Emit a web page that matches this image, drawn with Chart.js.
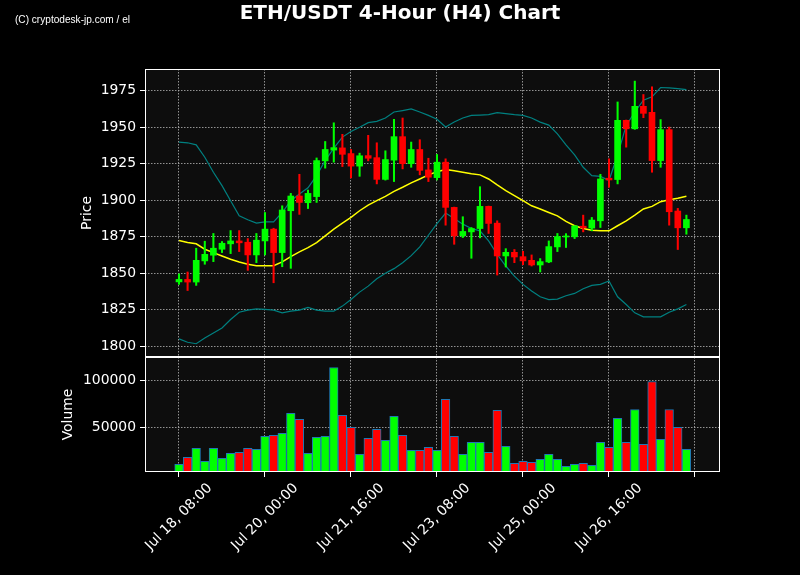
<!DOCTYPE html>
<html>
<head>
<meta charset="utf-8">
<script src="https://cdn.jsdelivr.net/npm/chart.js@4.4.1/dist/chart.umd.min.js"></script>
<style>
  html, body { margin: 0; padding: 0; background: #000; }
  #wrap { position: relative; width: 800px; height: 575px; overflow: hidden; }
  #title { position: absolute; left: 0; top: 0; width: 800px; text-align: center; color: #fff;
           font: bold 20px "DejaVu Sans"; line-height: 24px; white-space: nowrap; }
  #mark { position: absolute; left: 15px; top: 13px; color: #fff; font: 11px "Liberation Sans Narrow", "Liberation Sans";
          line-height: 13px; white-space: nowrap; transform-origin: 0 0; }
  canvas { position: absolute; left: 0; top: 0; }
</style>
</head>
<body>
<div id="wrap">
  <canvas id="chart-candles" width="800" height="575"></canvas>
  <div id="title">ETH/USDT 4-Hour (H4) Chart</div>
  <div id="mark">(C) cryptodesk-jp.com / el</div>
</div>
<script>
/* =====================
  Data (4-hour candles, Jul 18 08:00 onwards)
===================== */

var opens = [1844.0, 1845.7, 1843.9, 1858.4, 1862.3, 1866.4, 1870.1, 1872.1, 1871.2, 1862.5,
             1872.1, 1880.2, 1864.1, 1892.8, 1902.9, 1898.3, 1902.5, 1927.0, 1934.4, 1935.9,
             1932.0, 1923.4, 1930.6, 1929.2, 1914.3, 1927.5, 1943.6, 1925.1, 1934.8, 1920.8,
             1915.5, 1926.1, 1895.1, 1875.6, 1878.3, 1880.6, 1895.8, 1884.3, 1861.8, 1864.3,
             1861.3, 1858.8, 1855.6, 1857.7, 1868.0, 1874.8, 1874.9, 1882.2, 1880.9, 1885.9,
             1915.1, 1914.2, 1954.8, 1949.0, 1964.4, 1960.3, 1927.2, 1948.4, 1892.6, 1881.1];
var highs = [1849.5, 1850.8, 1867.1, 1871.9, 1877.2, 1871.7, 1879.2, 1879.2, 1873.7, 1877.2,
             1891.6, 1880.8, 1896.2, 1904.7, 1917.8, 1907.0, 1929.0, 1940.3, 1953.1, 1945.2,
             1934.8, 1932.3, 1944.5, 1939.4, 1933.9, 1955.5, 1956.4, 1939.9, 1941.5, 1928.8,
             1931.4, 1928.4, 1895.3, 1888.7, 1881.3, 1909.3, 1896.0, 1885.9, 1866.8, 1866.2,
             1865.0, 1862.5, 1860.0, 1872.1, 1877.2, 1877.1, 1882.5, 1889.8, 1888.2, 1917.8,
             1928.4, 1967.4, 1955.0, 1981.7, 1972.5, 1977.8, 1955.3, 1950.2, 1894.4, 1889.8];
var lows = [1842.3, 1838.1, 1841.6, 1856.1, 1857.9, 1864.1, 1863.4, 1864.8, 1851.9, 1857.2,
            1862.5, 1843.4, 1854.4, 1853.3, 1890.3, 1894.3, 1898.5, 1922.0, 1926.1, 1923.1,
            1915.3, 1916.4, 1927.0, 1911.2, 1913.8, 1912.8, 1921.5, 1922.6, 1917.4, 1912.8,
            1913.9, 1882.9, 1869.8, 1874.4, 1860.2, 1874.2, 1877.2, 1848.7, 1854.2, 1857.2,
            1855.8, 1854.9, 1850.8, 1857.2, 1864.8, 1867.6, 1873.7, 1878.3, 1879.0, 1881.3,
            1908.9, 1911.2, 1936.4, 1948.6, 1956.6, 1919.2, 1922.6, 1882.9, 1866.2, 1876.7];
var closes = [1845.7, 1843.9, 1858.8, 1862.9, 1867.1, 1870.5, 1872.1, 1870.8, 1862.5, 1872.6,
              1880.2, 1864.1, 1893.3, 1902.9, 1898.5, 1904.7, 1927.2, 1934.8, 1936.1, 1931.5,
              1923.4, 1930.5, 1928.8, 1914.3, 1927.9, 1943.6, 1925.1, 1934.8, 1920.5, 1915.8,
              1926.1, 1895.1, 1875.6, 1878.6, 1880.6, 1895.8, 1884.1, 1861.8, 1864.3, 1861.1,
              1858.4, 1855.6, 1857.9, 1868.2, 1875.1, 1875.3, 1882.4, 1881.1, 1886.4, 1914.6,
              1913.9, 1954.8, 1949.0, 1964.4, 1959.6, 1927.2, 1948.4, 1892.1, 1881.1, 1886.8];
var volumes = [10600, 18100, 27700, 13800, 27700, 17000, 22300, 23400, 27700, 26600,
               40400, 41500, 43600, 64900, 58500, 22300, 39400, 40400, 113800, 62800,
               50000, 21300, 38300, 47900, 36200, 61700, 41500, 25500, 25500, 28700,
               25500, 79800, 40400, 21300, 34000, 34000, 23400, 68100, 29800, 11700,
               13800, 12800, 16000, 21300, 16000, 8500, 10600, 11700, 9600, 34000,
               28700, 59600, 34000, 69100, 31900, 98900, 37200, 69100, 50000, 26600];
// Bollinger bands (middle line and upper / lower band)
var smaLine = [1872.4, 1871.0, 1870.1, 1866.4, 1864.1, 1861.8, 1859.5, 1857.7, 1856.1, 1855.1,
               1855.1, 1855.1, 1857.7, 1861.3, 1864.6, 1867.5, 1871.0, 1875.6, 1880.2, 1884.3,
               1888.2, 1892.8, 1896.7, 1899.7, 1902.7, 1906.1, 1908.9, 1911.9, 1914.6, 1917.4,
               1919.5, 1921.0, 1920.3, 1919.2, 1918.1, 1917.4, 1914.6, 1910.5, 1906.6, 1903.2,
               1899.7, 1896.2, 1894.0, 1891.6, 1889.3, 1885.5, 1882.5, 1880.6, 1879.5, 1879.0,
               1879.0, 1882.5, 1885.9, 1889.8, 1894.0, 1895.8, 1899.0, 1900.4, 1901.3, 1902.7];
var upperBand = [1939.9, 1939.4, 1938.0, 1929.5, 1919.2, 1910.0, 1899.7, 1889.4, 1886.6, 1884.3,
                 1885.2, 1885.2, 1891.6, 1899.7, 1904.3, 1908.5, 1916.9, 1927.2, 1935.7, 1943.3,
                 1947.2, 1950.0, 1953.2, 1954.1, 1956.4, 1960.5, 1961.5, 1962.6, 1960.5, 1958.2,
                 1955.5, 1950.2, 1953.6, 1956.4, 1958.2, 1958.4, 1958.7, 1960.1, 1959.4, 1958.7,
                 1958.2, 1956.4, 1953.6, 1951.5, 1945.5, 1938.0, 1931.1, 1922.6, 1916.9, 1916.4,
                 1913.5, 1931.1, 1951.3, 1960.5, 1968.6, 1970.9, 1977.3, 1977.1, 1976.6, 1975.9];
var lowerBand = [1804.9, 1802.6, 1801.6, 1805.5, 1809.0, 1812.4, 1818.2, 1823.2, 1824.6, 1825.5,
                 1825.1, 1824.6, 1822.8, 1823.9, 1824.6, 1826.5, 1824.6, 1823.9, 1823.9, 1827.4,
                 1831.9, 1837.0, 1841.1, 1846.2, 1849.9, 1853.1, 1857.2, 1862.0, 1868.0, 1876.0,
                 1884.0, 1891.2, 1887.5, 1883.6, 1880.6, 1879.0, 1872.1, 1862.9, 1854.9, 1848.0,
                 1842.3, 1837.7, 1833.8, 1831.9, 1832.2, 1834.5, 1836.1, 1839.3, 1841.6, 1842.3,
                 1844.6, 1833.8, 1828.5, 1822.8, 1820.0, 1820.0, 1820.0, 1823.2, 1825.5, 1828.5];

var tickIndex = [0, 10, 20, 30, 40, 50, 60];
var tickLabels = ['Jul 18, 08:00', 'Jul 20, 00:00', 'Jul 21, 16:00', 'Jul 23, 08:00',
                  'Jul 25, 00:00', 'Jul 26, 16:00', ''];
var priceTicks = [1800, 1825, 1850, 1875, 1900, 1925, 1950, 1975];
var volumeTicks = [50000, 100000];

/* =====================
  Build datasets
===================== */

var upColor = '#00ff00';
var downColor = '#ff0000';
var gridColor = 'rgba(170, 170, 170, 0.85)';
var tickFont = {family: 'DejaVu Sans', size: 13.9};

var candleColors = closes.map(function(c, i) {
  return c >= opens[i] ? upColor : downColor;
});
var wickData = highs.map(function(h, i) { return {x: i, y: [lows[i], h]}; });
var bodyData = opens.map(function(o, i) { return {x: i, y: [o, closes[i]]}; });
var volumeData = volumes.map(function(v, i) { return {x: i, y: v}; });
var toPoints = function(arr) {
  return arr.map(function(v, i) { return {x: i, y: v}; });
};

// panel backgrounds and white frames
var panelPlugin = {
  id: 'panels',
  beforeDraw: function(chart) {
    var ctx = chart.ctx, a = chart.chartArea;
    ctx.save();
    ctx.fillStyle = '#0d0d0d';
    ['y', 'yv'].forEach(function(id) {
      var s = chart.scales[id];
      ctx.fillRect(a.left, s.top, a.right - a.left, s.bottom - s.top);
    });
    ctx.restore();
  },
  afterDatasetsDraw: function(chart) {
    var ctx = chart.ctx, a = chart.chartArea;
    ctx.save();
    ctx.strokeStyle = '#ffffff';
    ctx.lineWidth = 1;
    ['y', 'yv'].forEach(function(id) {
      var s = chart.scales[id];
      ctx.strokeRect(Math.round(a.left) + 0.5, Math.round(s.top) + 0.5,
                     Math.round(a.right - a.left) - 1, Math.round(s.bottom - s.top) - 1);
    });
    ctx.restore();
  }
};

var ctx1 = document.getElementById('chart-candles').getContext('2d');
var candleChart = new Chart(ctx1, {
  type: 'bar',
  data: {
    datasets: [
      {type: 'line', label: 'Middle', data: toPoints(smaLine), borderColor: '#ffff00', borderWidth: 1.5,
       pointRadius: 0, tension: 0, yAxisID: 'y', order: 3},
      {type: 'line', label: 'Upper', data: toPoints(upperBand), borderColor: '#008080', borderWidth: 1.2,
       pointRadius: 0, tension: 0, yAxisID: 'y', order: 3},
      {type: 'line', label: 'Lower', data: toPoints(lowerBand), borderColor: '#008080', borderWidth: 1.2,
       pointRadius: 0, tension: 0, yAxisID: 'y', order: 3},
      {label: 'Wick', data: wickData, backgroundColor: candleColors, barThickness: 1.4,
       grouped: false, yAxisID: 'y', order: 2},
      {label: 'Body', data: bodyData, backgroundColor: candleColors, barThickness: 6,
       minBarLength: 1, grouped: false, yAxisID: 'y', order: 1},
      {label: 'Volume', data: volumeData, backgroundColor: candleColors, borderColor: '#1f77b4',
       borderWidth: 1, barThickness: 8.6, grouped: false, yAxisID: 'yv', order: 1}
    ]
  },
  options: {
    responsive: false,
    animation: false,
    devicePixelRatio: 1,
    layout: {padding: {top: 69, right: 80, bottom: 0, left: 0}},
    plugins: {legend: {display: false}, tooltip: {enabled: false}},
    scales: {
      x: {
        type: 'linear', position: 'bottom', min: -3.953, max: 62.907, offset: false,
        afterBuildTicks: function(axis) { axis.ticks = tickIndex.map(function(v) { return {value: v}; }); },
        afterFit: function(axis) { axis.height = 103; },
        grid: {offset: false, color: gridColor, lineWidth: 1, tickColor: '#ffffff', tickLength: 5, tickWidth: 1, tickBorderDash: []},
        border: {display: false, dash: [1.5, 1.5]},
        ticks: {
          color: '#ffffff', font: tickFont, minRotation: 45, maxRotation: 45, autoSkip: false,
          padding: 3, labelOffset: 31,
          callback: function(value, index) { return tickLabels[index]; }
        }
      },
      yv: {
        type: 'linear', position: 'left', stack: 'panels', stackWeight: 115, weight: 0,
        min: 2500, max: 125000,
        afterBuildTicks: function(axis) { axis.ticks = volumeTicks.map(function(v) { return {value: v}; }); },
        afterFit: function(axis) { axis.width = 145; },
        grid: {color: gridColor, lineWidth: 1, tickColor: '#ffffff', tickLength: 5, tickWidth: 1, tickBorderDash: []},
        border: {display: false, dash: [1.5, 1.5]},
        ticks: {color: '#ffffff', font: tickFont, padding: 4,
                callback: function(value) { return String(value); }},
        title: {display: true, text: 'Volume', color: '#ffffff', font: tickFont, padding: {top: 60, bottom: 0}}
      },
      y: {
        type: 'linear', position: 'left', stack: 'panels', stackWeight: 288, weight: 1,
        min: 1792.5, max: 1990,
        afterBuildTicks: function(axis) { axis.ticks = priceTicks.map(function(v) { return {value: v}; }); },
        afterFit: function(axis) { axis.width = 145; },
        grid: {color: gridColor, lineWidth: 1, tickColor: '#ffffff', tickLength: 5, tickWidth: 1, tickBorderDash: []},
        border: {display: false, dash: [1.5, 1.5]},
        ticks: {color: '#ffffff', font: tickFont, padding: 4,
                callback: function(value) { return String(value); }},
        title: {display: true, text: 'Price', color: '#ffffff', font: tickFont, padding: {top: 79, bottom: 0}}
      }
    }
  },
  plugins: [panelPlugin]
});

// squeeze the watermark to its narrow width
var mark = document.getElementById('mark');
var markWidth = mark.getBoundingClientRect().width;
mark.style.transform = 'scaleX(' + (115 / markWidth) + ')';
</script>
</body>
</html>
